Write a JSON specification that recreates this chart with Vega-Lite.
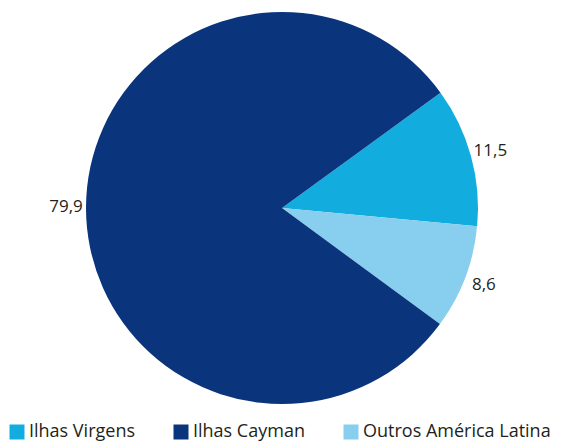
{
  "$schema": "https://vega.github.io/schema/vega-lite/v6.json",
  "width": 558,
  "height": 416,
  "autosize": {"type": "none"},
  "padding": {"left": 3, "top": 0, "right": 0, "bottom": 27},
  "background": "white",
  "config": {
    "view": {"stroke": null},
    "locale": {"number": {"decimal": ",", "thousands": ".", "grouping": [3], "currency": ["", ""]}},
    "font": "Open Sans"
  },
  "data": {
    "values": [
      {"pais": "Ilhas Virgens", "valor": 11.5, "ordem": 1},
      {"pais": "Outros América Latina", "valor": 8.6, "ordem": 2},
      {"pais": "Ilhas Cayman", "valor": 79.9, "ordem": 3}
    ]
  },
  "encoding": {
    "theta": {"field": "valor", "type": "quantitative", "stack": true, "scale": {"range": [0.942, 7.225]}},
    "order": {"field": "ordem", "type": "quantitative"},
    "color": {
      "field": "pais",
      "type": "nominal",
      "scale": {
        "domain": ["Ilhas Virgens", "Ilhas Cayman", "Outros América Latina"],
        "range": ["#12ADDE", "#0A347B", "#87CEEF"]
      },
      "legend": {
        "title": null,
        "orient": "none",
        "legendX": 5,
        "legendY": 423,
        "direction": "horizontal",
        "symbolType": "square",
        "symbolSize": 225,
        "symbolStrokeWidth": 0,
        "labelFontSize": 18,
        "labelColor": "#231F20",
        "labelOffset": 3,
        "labelLimit": 0,
        "columnPadding": 37,
        "labelFont": "Open Sans"
      }
    }
  },
  "layer": [
    {"mark": {"type": "arc", "outerRadius": 196}},
    {
      "mark": {"type": "text", "radius": 216, "fontSize": 17, "color": "#231F20", "font": "Open Sans"},
      "encoding": {
        "text": {"field": "valor", "type": "quantitative", "format": ".1f"},
        "color": {"value": "#231F20"}
      }
    }
  ]
}
